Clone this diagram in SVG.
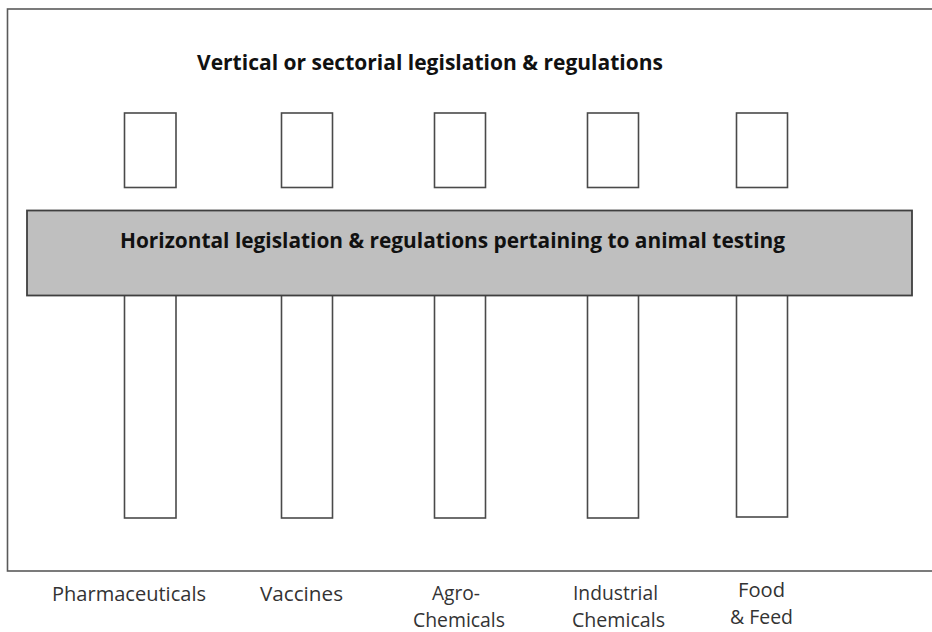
<svg xmlns="http://www.w3.org/2000/svg" width="932" height="632" viewBox="0 0 932 632">
  <style>
    .frame { fill: none; stroke: #5a5a5a; stroke-width: 1.6; }
    .pillar { fill: #ffffff; stroke: #4a4a4a; stroke-width: 1.6; }
    .band { fill: #bfbfbf; stroke: #3f3f3f; stroke-width: 1.8; }
    .title { font-family: "Open Sans", "Liberation Sans", sans-serif; font-weight: bold; font-size: 21px; fill: #111111; }
    .label { font-family: "Open Sans", "Liberation Sans", sans-serif; font-size: 19.5px; fill: #333333; }
  </style>
  <rect width="932" height="632" fill="#ffffff"/>

  <!-- outer frame, open on the right -->
  <g id="frame">
    <rect class="frame" x="7.5" y="9" width="940" height="562"/>
  </g>

  <text class="title" x="197" y="70" textLength="466" lengthAdjust="spacingAndGlyphs">Vertical or sectorial legislation &amp; regulations</text>

  <!-- sector pillars: upper and lower parts -->
  <g id="pillar-pharmaceuticals">
    <rect class="pillar" x="124.5" y="113" width="51.5" height="74.5"/>
    <rect class="pillar" x="124.5" y="295" width="51.5" height="223"/>
  </g>
  <g id="pillar-vaccines">
    <rect class="pillar" x="281.5" y="113" width="51" height="74.5"/>
    <rect class="pillar" x="281.5" y="295" width="51" height="223"/>
  </g>
  <g id="pillar-agrochemicals">
    <rect class="pillar" x="434.5" y="113" width="51" height="74.5"/>
    <rect class="pillar" x="434.5" y="295" width="51" height="223"/>
  </g>
  <g id="pillar-industrial">
    <rect class="pillar" x="587.5" y="113" width="51" height="74.5"/>
    <rect class="pillar" x="587.5" y="295" width="51" height="223"/>
  </g>
  <g id="pillar-food">
    <rect class="pillar" x="736.5" y="113" width="51" height="74.5"/>
    <rect class="pillar" x="736.5" y="295" width="51" height="222"/>
  </g>

  <!-- horizontal band across all pillars -->
  <g id="horizontal-band">
    <rect class="band" x="27" y="210.5" width="885" height="85"/>
    <text class="title" x="120" y="248" textLength="665" lengthAdjust="spacingAndGlyphs">Horizontal legislation &amp; regulations pertaining to animal testing</text>
  </g>

  <!-- sector labels -->
  <g id="labels">
    <text class="label" x="52" y="601" textLength="154" lengthAdjust="spacingAndGlyphs">Pharmaceuticals</text>
    <text class="label" x="260" y="601" textLength="83" lengthAdjust="spacingAndGlyphs">Vaccines</text>
    <text class="label" x="432" y="600" textLength="48" lengthAdjust="spacingAndGlyphs">Agro-</text>
    <text class="label" x="413" y="627" textLength="92" lengthAdjust="spacingAndGlyphs">Chemicals</text>
    <text class="label" x="573" y="600" textLength="85" lengthAdjust="spacingAndGlyphs">Industrial</text>
    <text class="label" x="572" y="627" textLength="93" lengthAdjust="spacingAndGlyphs">Chemicals</text>
    <text class="label" x="738" y="597" textLength="47" lengthAdjust="spacingAndGlyphs">Food</text>
    <text class="label" x="730" y="624" textLength="63" lengthAdjust="spacingAndGlyphs">&amp; Feed</text>
  </g>
</svg>
